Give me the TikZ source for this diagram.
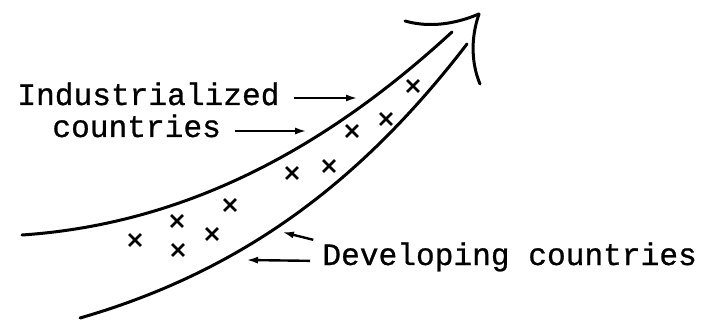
\documentclass[tikz,border=0pt]{standalone}
\usepackage{fontspec}
\newfontfamily\typewriter[FakeBold=0.8]{Liberation Mono}
\usetikzlibrary{arrows.meta, shapes.misc}
\tikzset{
  curve/.style   = {line width=1.5pt, line cap=round},
  pointer/.style = {-{Latex[length=6pt, width=3.5pt]}, line width=1.2pt},
  txt/.style     = {anchor=base west, inner sep=0pt,
                    font=\fontsize{15.6}{18}\selectfont\typewriter},
  cross/.style   = {cross out, draw, line width=1.4pt, inner sep=0pt,
                    minimum size=4.5pt}
}

\begin{document}
\begin{tikzpicture}[x=0.5pt, y=-0.5pt]
  \useasboundingbox (0,0) rectangle (706,320);

  % the two bands
  \draw[curve] (22,235) .. controls (200,223) and (340,135) .. (452,32);
  \draw[curve] (80,318) .. controls (250,269) and (367,174) .. (467,44);

  % open arrow head
  \draw[curve] (405,21) .. controls (430,28) and (455,24) .. (479,14);
  \draw[curve] (479,14) .. controls (470,40) and (472,65) .. (480,84);

  % countries in the band
  \foreach \n/\p in {1/{(135,240)}, 2/{(177,221)}, 3/{(178,250)}, 4/{(212,234)},
                     5/{(230,205)}, 6/{(292,173)}, 7/{(329,166)}, 8/{(352,131)},
                     9/{(386,119)}, 10/{(413,86)}}
    \node (c\n) [cross] at \p {};

  % labels
  \node (ind) [txt] at (17,105)  {Industrialized};
  \node (cnt) [txt] at (52,137)  {countries};
  \node (dev) [txt] at (322,265) {Developing countries};

  \coordinate (hitI) at (358,98);
  \coordinate (hitC) at (307,131);
  \coordinate (hitD) at (282,232);
  \coordinate (hitL) at (246,260);

  % pointers to the bands
  \draw[pointer, shorten <=7pt] ([yshift=3.5pt]ind.base east) -- (hitI);
  \draw[pointer, shorten <=7pt] ([yshift=3pt]cnt.base east) -- (hitC);
  \draw[pointer, shorten <=4.5pt] (dev.north west) -- (hitD);
  \draw[pointer, shorten <=6pt] ([yshift=2pt]dev.base west) -- (hitL);
\end{tikzpicture}
\end{document}
